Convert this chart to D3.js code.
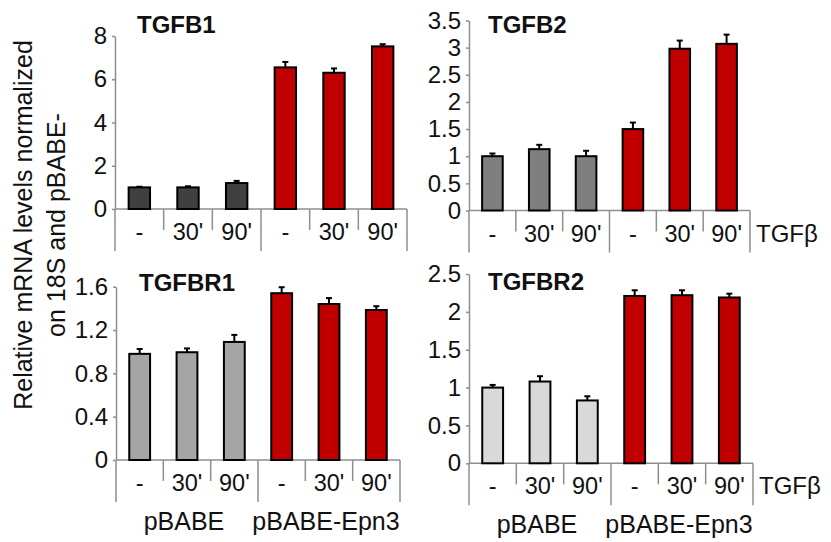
<!DOCTYPE html>
<html>
<head>
<meta charset="utf-8">
<script src="https://cdn.jsdelivr.net/npm/d3@7"></script>
<style>
  body { margin: 0; background: #ffffff; }
  text { font-family: Arial, "Liberation Sans", Helvetica, sans-serif; fill: #111111; }
</style>
</head>
<body>
<div id="chart"></div>
<script>
// Data.
const categories = ['-', "30'", "90'", '-', "30'", "90'"];
const groups = ['pBABE', 'pBABE-Epn3'];

const tgfb1Values = [1.0, 1.0, 1.2, 6.55, 6.3, 7.52];
const tgfb1Errors = [0.03, 0.05, 0.1, 0.25, 0.2, 0.1];
const tgfb1Ticks = [0, 2, 4, 6, 8];

const tgfb2Values = [1.0, 1.13, 1.0, 1.5, 2.98, 3.07];
const tgfb2Errors = [0.05, 0.08, 0.1, 0.12, 0.15, 0.17];
const tgfb2Ticks = [0, 0.5, 1, 1.5, 2, 2.5, 3, 3.5];

const tgfbr1Values = [0.98, 0.995, 1.09, 1.54, 1.44, 1.385];
const tgfbr1Errors = [0.045, 0.035, 0.065, 0.055, 0.055, 0.035];
const tgfbr1Ticks = [0, 0.4, 0.8, 1.2, 1.6];

const tgfbr2Values = [1.0, 1.08, 0.83, 2.21, 2.22, 2.19];
const tgfbr2Errors = [0.035, 0.07, 0.055, 0.075, 0.065, 0.05];
const tgfbr2Ticks = [0, 0.5, 1, 1.5, 2, 2.5];

const red = '#c00000';
const axisColor = '#8e8e8e';

const svg = d3.select('#chart')
      .append('svg')
      .attr('width', 831)
      .attr('height', 542);

// Panel layout.
const panels = [
  {title: 'TGFB1', values: tgfb1Values, errors: tgfb1Errors, ticks: tgfb1Ticks,
   fill: '#404040', x0: 115, x1: 407, y0: 209, yTop: 36, titleX: 137, titleY: 33,
   tgf: false, groupLabels: false},
  {title: 'TGFB2', values: tgfb2Values, errors: tgfb2Errors, ticks: tgfb2Ticks,
   fill: '#7f7f7f', x0: 469, x1: 750, y0: 210.5, yTop: 20.5, titleX: 488, titleY: 33,
   tgf: true, groupLabels: false},
  {title: 'TGFBR1', values: tgfbr1Values, errors: tgfbr1Errors, ticks: tgfbr1Ticks,
   fill: '#a5a5a5', x0: 116, x1: 400, y0: 460, yTop: 286.7, titleX: 139, titleY: 291,
   tgf: false, groupLabels: true},
  {title: 'TGFBR2', values: tgfbr2Values, errors: tgfbr2Errors, ticks: tgfbr2Ticks,
   fill: '#d9d9d9', x0: 469, x1: 753, y0: 463.3, yTop: 274, titleX: 488, titleY: 290,
   tgf: true, groupLabels: true},
];

panels.forEach((p) => {
  const g = svg.append('g');
  const idx = d3.range(categories.length);

  const x = d3.scaleBand()
        .domain(idx)
        .range([p.x0, p.x1])
        .paddingInner(0)
        .paddingOuter(0);

  const y = d3.scaleLinear()
        .domain([0, d3.max(p.ticks)])
        .range([p.y0, p.yTop]);

  // Y axis.
  const yAxis = g.append('g')
        .attr('transform', `translate(${p.x0},0)`)
        .call(d3.axisLeft(y)
              .tickValues(p.ticks)
              .tickFormat(d3.format('~g'))
              .tickSize(3)
              .tickSizeOuter(0)
              .tickPadding(5));
  yAxis.select('.domain').attr('stroke', axisColor).attr('stroke-width', 1.5);
  yAxis.selectAll('.tick line').attr('stroke', axisColor).attr('stroke-width', 1.5);
  yAxis.selectAll('.tick text')
    .style('font-size', '24px')
    .attr('fill', '#111111');

  // Category axis line and separators.
  g.append('line')
    .attr('x1', p.x0).attr('x2', p.x1)
    .attr('y1', p.y0).attr('y2', p.y0)
    .attr('stroke', axisColor).attr('stroke-width', 1.5);

  const bounds = idx.map((i) => x(i)).concat([p.x1]);
  g.selectAll('line.sep')
    .data(bounds)
    .join('line')
    .attr('class', 'sep')
    .attr('x1', (d) => d).attr('x2', (d) => d)
    .attr('y1', p.y0)
    .attr('y2', (d, i) => (i % 3 === 0 ? p.y0 + 42 : p.y0 + 21))
    .attr('stroke', axisColor)
    .attr('stroke-width', 1.5);

  g.selectAll('text.cat')
    .data(categories)
    .join('text')
    .attr('class', 'cat')
    .attr('x', (d, i) => x(i) + x.bandwidth() / 2)
    .attr('y', p.y0 + 31)
    .attr('text-anchor', 'middle')
    .style('font-size', '23.5px')
    .text((d) => d);

  if (p.tgf) {
    g.append('text')
      .attr('x', p.x1 + 6)
      .attr('y', p.y0 + 31)
      .style('font-size', '24px')
      .text('TGFβ');
  }

  if (p.groupLabels) {
    g.selectAll('text.grp')
      .data(groups)
      .join('text')
      .attr('class', 'grp')
      .attr('x', (d, i) => (x(i * 3) + bounds[i * 3 + 3]) / 2 - 3)
      .attr('y', p.y0 + 70)
      .attr('text-anchor', 'middle')
      .style('font-size', '25px')
      .text((d) => d);
  }

  // Bars.
  const bw = x.bandwidth() * 0.44;
  g.selectAll('rect.bar')
    .data(p.values)
    .join('rect')
    .attr('class', 'bar')
    .attr('x', (d, i) => x(i) + (x.bandwidth() - bw) / 2)
    .attr('y', (d) => y(d))
    .attr('width', bw)
    .attr('height', (d) => p.y0 - y(d))
    .attr('fill', (d, i) => (i < 3 ? p.fill : red))
    .attr('stroke', '#000000')
    .attr('stroke-width', 2);

  // Error bars, upper only.
  const err = g.selectAll('g.err')
        .data(p.values)
        .join('g')
        .attr('class', 'err')
        .attr('stroke', '#000000')
        .attr('stroke-width', 2);
  err.append('line')
    .attr('x1', (d, i) => x(i) + x.bandwidth() / 2)
    .attr('x2', (d, i) => x(i) + x.bandwidth() / 2)
    .attr('y1', (d) => y(d))
    .attr('y2', (d, i) => y(d + p.errors[i]));
  err.append('line')
    .attr('x1', (d, i) => x(i) + x.bandwidth() / 2 - 3)
    .attr('x2', (d, i) => x(i) + x.bandwidth() / 2 + 3)
    .attr('y1', (d, i) => y(d + p.errors[i]))
    .attr('y2', (d, i) => y(d + p.errors[i]));

  // Title.
  g.append('text')
    .attr('x', p.titleX)
    .attr('y', p.titleY)
    .style('font-size', '24px')
    .style('font-weight', 'bold')
    .text(p.title);
});

// Shared y label.
const ylab = svg.append('text')
      .attr('transform', 'translate(32,225) rotate(-90)')
      .attr('text-anchor', 'middle')
      .style('font-size', '25px');
ylab.append('tspan')
  .attr('x', 0).attr('y', 0)
  .text('Relative mRNA levels normalized');
ylab.append('tspan')
  .attr('x', 0).attr('y', 33)
  .text('on 18S and pBABE-');
</script>
</body>
</html>
